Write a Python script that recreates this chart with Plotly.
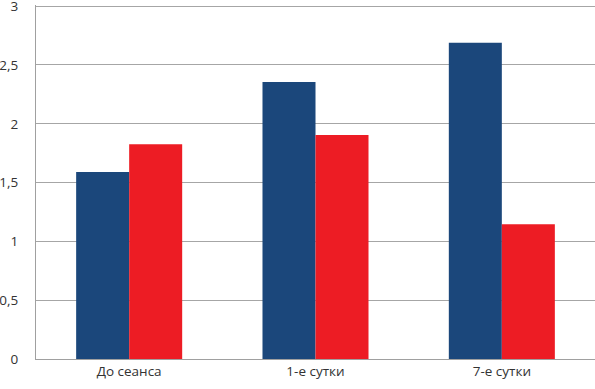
import plotly.graph_objects as go

categories = ["До сеанса", "1-е сутки", "7-е сутки"]
series_blue = [1.59, 2.355, 2.69]
series_red = [1.825, 1.905, 1.145]
y_ticks = [0, 0.5, 1, 1.5, 2, 2.5, 3]
y_labels = ["0", "0,5", "1", "1,5", "2", "2,5", "3"]

fig = go.Figure()
fig.add_trace(go.Bar(x=categories, y=series_blue, marker=dict(color="#1B477B", line=dict(width=0))))
fig.add_trace(go.Bar(x=categories, y=series_red, marker=dict(color="#ED1C24", line=dict(width=0))))

fig.update_layout(
    width=595, height=389,
    margin=dict(l=36, r=0, t=5, b=30, autoexpand=False),
    paper_bgcolor="white", plot_bgcolor="white",
    barmode="group", bargap=0.431, bargroupgap=0,
    showlegend=False,
    font=dict(family="Open Sans, Lato, sans-serif", size=13.5, color="#333333"),
    xaxis=dict(showgrid=False, showline=True, linecolor="#A0A0A0", linewidth=1,
               ticks="", tickfont=dict(size=13.5), automargin=False),
    yaxis=dict(range=[0, 3.01], tickvals=y_ticks, ticktext=y_labels, showgrid=True,
               gridcolor="#A6A6A6", gridwidth=1,
               showline=True, linecolor="#A0A0A0", linewidth=1, zeroline=False,
               ticks="", ticklabelstandoff=14, ticklabeloverflow="allow",
               tickfont=dict(size=13.5), automargin=False),
)
fig.write_html("out.html", config={"displayModeBar": False},
               post_script="document.body.style.margin='0';document.body.style.padding='0';document.body.style.overflow='hidden';")
